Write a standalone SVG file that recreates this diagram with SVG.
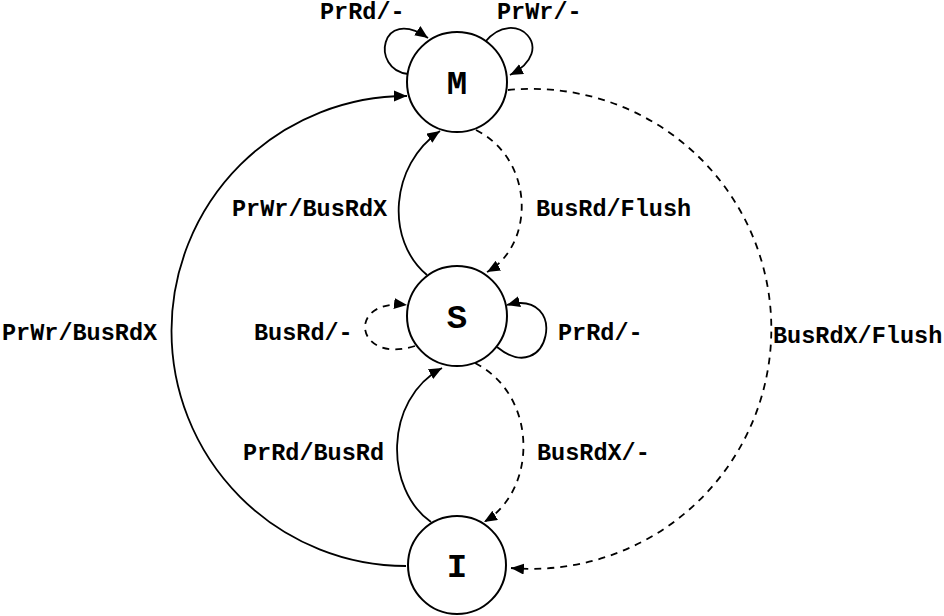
<svg xmlns="http://www.w3.org/2000/svg" width="944" height="616" viewBox="0 0 944 616">
<defs>
<marker id="ah" markerUnits="userSpaceOnUse" markerWidth="14" markerHeight="12" refX="13" refY="5.5" orient="auto">
<path d="M0,0 L13,5.5 L0,11 z" fill="#000"/>
</marker>
<style>
.node circle{fill:#fff;stroke:#000;stroke-width:2}
.node text{font-family:"Liberation Mono","Courier New",monospace;font-weight:bold;font-size:34px;text-anchor:middle}
.e{fill:none;stroke:#000;stroke-width:1.8;marker-end:url(#ah)}
.d{stroke-dasharray:7,6}
.lbl{font-family:"Liberation Mono","Courier New",monospace;font-weight:bold;font-size:23.5px}
</style>
</defs>
<rect width="944" height="616" fill="#fff"/>
<g id="connectors">
<path class="e" d="M408,74 C370,70 380,5 428,38"/>
<path class="e" d="M485,42 C515,5 560,50 510,75"/>
<path class="e" d="M406,566 A235,235 0 1 1 407,96"/>
<path class="e d" d="M508,90 A240,240 0 1 1 511,568"/>
<path class="e" d="M427,275 C385,240 390,165 440,131"/>
<path class="e d" d="M476,130 C535,160 535,245 487,272"/>
<path class="e" d="M431,522 C385,490 383,400 442,368"/>
<path class="e d" d="M475,363 C538,395 538,490 484,522"/>
<path class="e d" d="M415,346 C355,365 345,298 407,305"/>
<path class="e" d="M497,347 C550,390 570,288 507,305"/>
<text class="lbl" x="320" y="19">PrRd/-</text>
<text class="lbl" x="497" y="19">PrWr/-</text>
<text class="lbl" x="2" y="340">PrWr/BusRdX</text>
<text class="lbl" x="254" y="340">BusRd/-</text>
<text class="lbl" x="558" y="340">PrRd/-</text>
<text class="lbl" x="773" y="343">BusRdX/Flush</text>
<text class="lbl" x="232" y="216">PrWr/BusRdX</text>
<text class="lbl" x="536" y="216">BusRd/Flush</text>
<text class="lbl" x="243" y="460">PrRd/BusRd</text>
<text class="lbl" x="537" y="460">BusRdX/-</text>
</g>
<g id="node-M" class="node"><circle cx="457" cy="82" r="50"/><text x="457" y="94">M</text></g>
<g id="node-S" class="node"><circle cx="457" cy="316" r="50"/><text x="457" y="328">S</text></g>
<g id="node-I" class="node"><circle cx="457" cy="565" r="49"/><text x="457" y="577">I</text></g>
</svg>
